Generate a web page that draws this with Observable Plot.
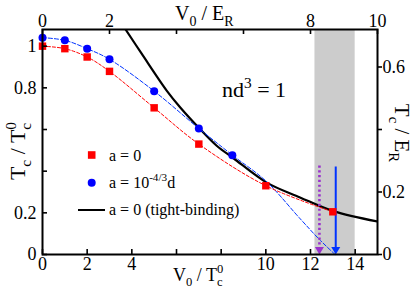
<!DOCTYPE html>
<html><head><meta charset="utf-8">
<script src="https://cdn.jsdelivr.net/npm/d3@7"></script>
<script src="https://cdn.jsdelivr.net/npm/@observablehq/plot@0.6"></script>
<style>
body{margin:0;background:#fff}
svg{display:block}
#chart svg, #chart svg text, #chart svg tspan { font-family: "Liberation Serif", "Times New Roman", serif !important; }
</style>
</head><body><div id="chart"></div>
<script>
// ---- data ----
const redX = [0, 1, 2, 3, 5, 7, 10, 13];
const redY = [1.0, 0.988, 0.948, 0.879, 0.704, 0.530, 0.330, 0.205];
const blueX = [0, 1, 2, 3, 5, 7, 8.5];
const blueY = [1.041, 1.028, 0.988, 0.937, 0.784, 0.605, 0.477];
const blueFitX = [0, 1, 2, 3, 5, 7, 8.5, 10, 11.5, 12.4, 13.1];
const blueFitY = [1.041, 1.028, 0.988, 0.937, 0.784, 0.605, 0.477, 0.353, 0.176, 0.072, 0];
const tbX = [3.69, 4.44, 5.56, 6.16, 7.01, 7.8, 8.55, 10.04, 11.53, 13.02, 15];
const tbY = [1.085, 0.964, 0.787, 0.707, 0.607, 0.522, 0.462, 0.345, 0.274, 0.208, 0.158];
const bandX = [12.2, 14.0];
const arrowX = [12.4, 13.13];
const arrowTop = [0.425, 0.42];
const arrowColor = ["#9932cc", "#0033ff"];
const bottomTicks = [0, 2, 4, 6, 8, 10, 12, 14];
const bottomLabels = [0, 2, 4, 10, 12, 14];
const leftTicks = [0, 0.2, 0.4, 0.6, 0.8, 1];
const leftLabels = [0, 0.2, 0.8, 1];
const topTicks = [0, 2, 4, 6, 8, 10];      // V0 / E_R
const topLabels = [0, 2, 8, 10];
const rightTicks = [0, 0.2, 0.4, 0.6];     // Tc / E_R
const rightLabels = [0, 0.2, 0.6];
const unitRatio = 1.5;                     // (V0/Tc0) per (V0/E_R)

const FONT = "Liberation Serif, Times New Roman, serif";
const W = 415, H = 291;
const mL = 42, mR = 38, mT = 29, mB = 37;
const frameW = W - mL - mR, frameH = H - mT - mB;

const pts = (xs, ys) => xs.map((x, i) => ({x, y: ys[i]}));
const red = pts(redX, redY), blue = pts(blueX, blueY);
const blueFit = pts(blueFitX, blueFitY), tb = pts(tbX, tbY);
const arrows = arrowX.map((x, i) => ({x, top: arrowTop[i], c: arrowColor[i]}));
const fmt = v => String(Math.round(v * 100) / 100);

const downTri = {draw(ctx) { ctx.moveTo(-4.5, -7.5); ctx.lineTo(4.5, -7.5); ctx.lineTo(0, 0); ctx.closePath(); }};

const topPos = topTicks.map(v => v * unitRatio);
const rightPos = rightTicks.map(v => v * unitRatio);
const topSet = new Set(topLabels.map(fmt)), rightSet = new Set(rightLabels.map(fmt));
const bottomSet = new Set(bottomLabels.map(fmt)), leftSet = new Set(leftLabels.map(fmt));

const chart = Plot.plot({
  width: W, height: H,
  marginLeft: mL, marginRight: mR, marginTop: mT, marginBottom: mB,
  style: {fontFamily: FONT, fontSize: "18px", background: "white", color: "black"},
  x: {domain: [0, 15]},
  y: {domain: [0, 1.08]},
  marks: [
    Plot.rect([{x1: bandX[0], x2: bandX[1]}], {x1: "x1", x2: "x2", fill: "#cccccc"}),
    Plot.line(tb, {x: "x", y: "y", curve: "catmull-rom", stroke: "black", strokeWidth: 2.2, clip: true}),
    Plot.line(blueFit, {x: "x", y: "y", curve: "catmull-rom", stroke: "#0033ff", strokeWidth: 1, strokeDasharray: "4,2"}),
    Plot.line(red, {x: "x", y: "y", curve: "catmull-rom", stroke: "#ff0000", strokeWidth: 1, strokeDasharray: "3,2"}),
    Plot.ruleX(arrows.slice(0, 1), {x: "x", y1: "top", y2: 0.03, stroke: "c", strokeWidth: 2.6, strokeDasharray: "2.2,2.6"}),
    Plot.ruleX(arrows.slice(1), {x: "x", y1: "top", y2: 0.03, stroke: "c", strokeWidth: 2}),
    Plot.dot(arrows, {x: "x", y: 0, symbol: downTri, r: 4, fill: "c", stroke: null}),
    Plot.dot(blue, {x: "x", y: "y", r: 4, fill: "#0000ff", stroke: null}),
    Plot.dot(red, {x: "x", y: "y", r: 4.2, symbol: "square", fill: "#ff0000", stroke: null}),
    // inward ticks
    Plot.tickX(bottomTicks, {x: d => d, insetTop: frameH - 5, strokeWidth: 1.6}),
    Plot.tickX(topPos, {x: d => d, insetBottom: frameH - 5, strokeWidth: 1.6}),
    Plot.tickY(leftTicks, {y: d => d, insetRight: frameW - 5, strokeWidth: 1.6}),
    Plot.frame({stroke: "black", strokeWidth: 2}),
    // tick labels
    Plot.axisX(bottomTicks, {anchor: "bottom", tickSize: 0, tickPadding: 3, fontSize: 18, tickFormat: d => bottomSet.has(fmt(d)) ? fmt(d) : "", label: null}),
    Plot.axisX(topPos, {anchor: "top", tickSize: 0, tickPadding: 3, fontSize: 18, tickFormat: d => { const s = fmt(d / unitRatio); return topSet.has(s) ? s : ""; }, label: null}),
    Plot.axisY(leftTicks, {anchor: "left", tickSize: 0, tickPadding: 6, fontSize: 18, tickFormat: d => leftSet.has(fmt(d)) ? fmt(d) : "", label: null}),
    Plot.axisY(rightPos, {anchor: "right", tickSize: 4, tickPadding: 1, strokeWidth: 1.6, fontSize: 18, tickFormat: d => { const s = fmt(d / unitRatio); return rightSet.has(s) ? s : ""; }, label: null})
  ]
});
document.getElementById("chart").appendChild(chart);

// ---- rich text (sub/superscripts) ----
const svg = d3.select(chart);
function rich(o, parts) {
  const t = svg.append("text").attr("font-family", FONT).attr("font-size", o.size)
    .attr("fill", "black").attr("text-anchor", o.anchor || "start")
    .attr("transform", `translate(${o.x},${o.y}) rotate(${o.rotate || 0})`);
  let cur = 0;
  for (const [s, kind, dx] of parts) {
    let target = 0, fs = o.size;
    if (kind === "sub") { target = 0.28 * o.size; fs = 0.7 * o.size; }
    if (kind === "sup") { target = -0.42 * o.size; fs = 0.7 * o.size; }
    const ts = t.append("tspan").attr("font-size", fs).attr("dy", target - cur).text(s);
    if (dx) ts.attr("dx", dx * o.size);
    cur = target;
  }
}
rich({x: 175, y: 20, size: 20}, [["V"], ["0", "sub"], [" / E"], ["R", "sub"]]);
rich({x: 173, y: 281, size: 18}, [["V"], ["0", "sub"], [" / T"], ["c", "sub"], ["0", "sup", -0.31]]);
rich({x: 25, y: 151, size: 22, rotate: -90, anchor: "middle"}, [["T"], ["c", "sub"], [" / T"], ["c", "sub"], ["0", "sup", -0.31]]);
rich({x: 395, y: 133, size: 21, rotate: 90, anchor: "middle"}, [["T"], ["c", "sub"], [" / E"], ["R", "sub"]]);
rich({x: 222, y: 97, size: 22}, [["nd"], ["3", "sup"], [" = 1"]]);
// legend
svg.append("rect").attr("x", 91.7 - 3.8).attr("y", 155 - 3.8).attr("width", 7.6).attr("height", 7.6).attr("fill", "#ff0000");
svg.append("circle").attr("cx", 91.7).attr("cy", 182.7).attr("r", 4).attr("fill", "#0000ff");
svg.append("line").attr("x1", 78).attr("x2", 105).attr("y1", 210).attr("y2", 210).attr("stroke", "black").attr("stroke-width", 2);
rich({x: 109, y: 161, size: 16}, [["a = 0"]]);
rich({x: 109, y: 188, size: 16}, [["a = 10"], ["-4/3", "sup"], ["d"]]);
rich({x: 109, y: 215, size: 16}, [["a = 0 (tight-binding)"]]);
</script></body></html>
